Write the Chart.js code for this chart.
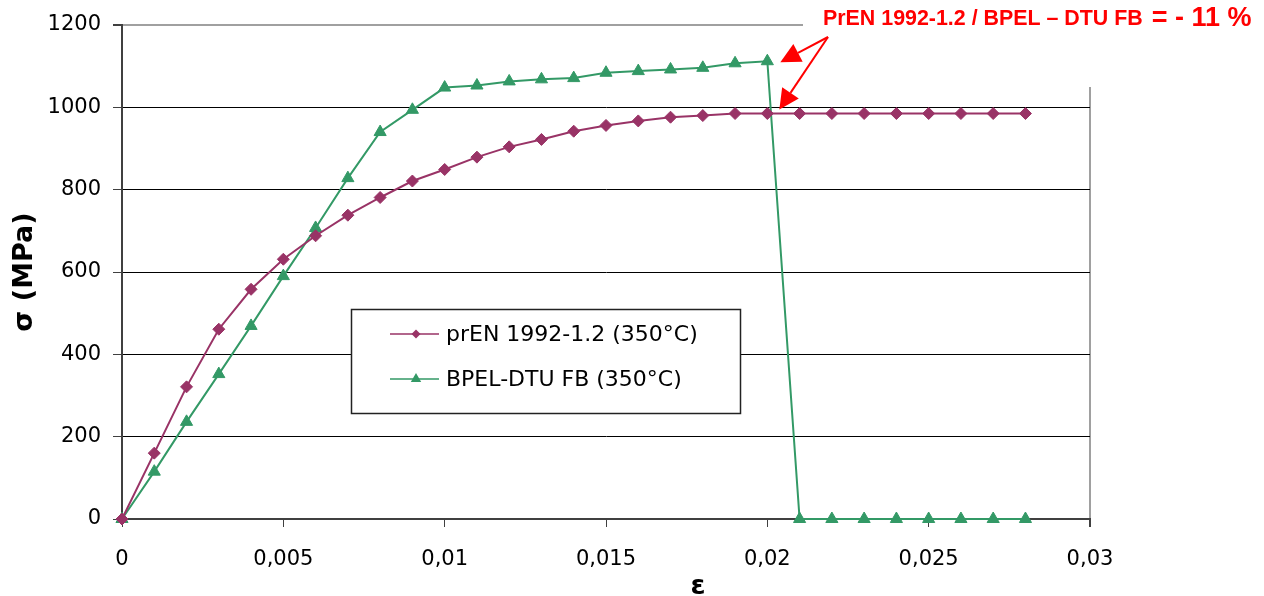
<!DOCTYPE html>
<html>
<head>
<meta charset="utf-8">
<script src="https://cdn.jsdelivr.net/npm/chart.js@4.4.0/dist/chart.umd.min.js"></script>
<style>
  html, body { margin: 0; padding: 0; background: #fff; }
  canvas { display: block; }
</style>
</head>
<body>
<canvas id="chart" width="1264" height="596"></canvas>
<script>
// strain ε
const strain = [0, 0.001, 0.002, 0.003, 0.004, 0.005, 0.006, 0.007, 0.008, 0.009,
  0.010, 0.011, 0.012, 0.013, 0.014, 0.015, 0.016, 0.017, 0.018, 0.019,
  0.020, 0.021, 0.022, 0.023, 0.024, 0.025, 0.026, 0.027, 0.028];

// stress σ (MPa)
const prEN = [0, 160, 321, 461, 558, 631, 688, 738, 781, 821,
  849, 879, 904, 922, 942, 956, 967, 976, 980, 985,
  985, 985, 985, 985, 985, 985, 985, 985, 985];
const bpel = [0, 115, 236, 352, 469, 590, 707, 828, 940, 994,
  1048, 1053, 1063, 1068, 1071, 1084, 1088, 1092, 1096, 1107,
  1112, 0, 0, 0, 0, 0, 0, 0, 0];

const seriesNames = ['prEN 1992-1.2 (350°C)', 'BPEL-DTU FB (350°C)'];
const xTickLabels = ['0', '0,005', '0,01', '0,015', '0,02', '0,025', '0,03'];
const yTickLabels = ['0', '200', '400', '600', '800', '1000', '1200'];
const noteText = ['PrEN 1992-1.2 / BPEL – DTU FB ', '= - 11 %'];

const PURPLE = '#993366';
const GREEN = '#339966';

function toPoints(ys) {
  return ys.map((v, i) => ({ x: strain[i], y: v }));
}

function marker(ctx, style, r, x, y) {
  ctx.beginPath();
  if (style === 'triangle') {
    ctx.moveTo(x, y - r);
    ctx.lineTo(x + r * 0.866, y + r * 0.5);
    ctx.lineTo(x - r * 0.866, y + r * 0.5);
  } else {
    ctx.moveTo(x, y - r);
    ctx.lineTo(x + r, y);
    ctx.lineTo(x, y + r);
    ctx.lineTo(x - r, y);
  }
  ctx.closePath();
  ctx.fill();
}

function arrow(ctx, x0, y0, x1, y1) {
  const a = Math.atan2(y1 - y0, x1 - x0);
  const len = 20, half = 10;
  const bx = x1 - Math.cos(a) * len, by = y1 - Math.sin(a) * len;
  ctx.beginPath();
  ctx.moveTo(x0, y0);
  ctx.lineTo(bx, by);
  ctx.stroke();
  ctx.beginPath();
  ctx.moveTo(x1, y1);
  ctx.lineTo(bx + Math.sin(a) * half, by - Math.cos(a) * half);
  ctx.lineTo(bx - Math.sin(a) * half, by + Math.cos(a) * half);
  ctx.closePath();
  ctx.fill();
}

// legend box, ε title and the red ratio note
const extras = {
  id: 'extras',
  afterDraw(chart) {
    const ctx = chart.ctx;
    ctx.save();

    // legend
    const lx = 351, ly = 309, lw = 389, lh = 104;
    ctx.fillStyle = '#fff';
    ctx.fillRect(lx, ly, lw, lh);
    ctx.strokeStyle = '#222';
    ctx.lineWidth = 1.5;
    ctx.strokeRect(lx + 0.5, ly + 0.5, lw, lh);
    chart.data.datasets.forEach((ds, i) => {
      const y = ly + 25 + i * 45;
      ctx.strokeStyle = ds.borderColor;
      ctx.fillStyle = ds.borderColor;
      ctx.lineWidth = 1.5;
      ctx.beginPath();
      ctx.moveTo(lx + 39, y);
      ctx.lineTo(lx + 88, y);
      ctx.stroke();
      marker(ctx, ds.pointStyle, ds.pointStyle === 'triangle' ? 6 : 4.5, lx + 65, y);
      ctx.fillStyle = '#000';
      ctx.font = '22px "DejaVu Sans"';
      ctx.textAlign = 'left';
      ctx.textBaseline = 'middle';
      ctx.fillText(ds.label, lx + 95, y + 1);
    });

    // x axis title
    ctx.fillStyle = '#000';
    ctx.font = 'bold 27px "DejaVu Sans"';
    ctx.textAlign = 'center';
    ctx.textBaseline = 'middle';
    ctx.fillText('ε', 698, 587);

    // text box in the top right corner
    ctx.fillStyle = '#fff';
    ctx.fillRect(803, 0, chart.width - 803, 87);
    ctx.fillStyle = '#ff0000';
    ctx.strokeStyle = '#ff0000';
    ctx.textAlign = 'left';
    ctx.textBaseline = 'alphabetic';
    ctx.font = 'bold 21.4px "Liberation Sans"';
    ctx.fillText(noteText[0], 823, 25);
    const w = ctx.measureText(noteText[0]).width;
    ctx.font = 'bold 27px "Liberation Sans"';
    ctx.fillText(noteText[1], 823 + w + 3, 26);

    // arrows to the two curves at ε = 0,02
    const peak = chart.getDatasetMeta(1).data[20];
    const plateau = chart.getDatasetMeta(0).data[20];
    ctx.lineWidth = 2;
    arrow(ctx, 828, 37, peak.x + 13, peak.y + 1);
    arrow(ctx, 828, 37, plateau.x + 12, plateau.y - 4);

    ctx.restore();
  }
};

new Chart(document.getElementById('chart'), {
  type: 'line',
  data: {
    datasets: [
      {
        label: seriesNames[0],
        data: toPoints(prEN),
        borderColor: PURPLE,
        backgroundColor: PURPLE,
        borderWidth: 2,
        pointStyle: 'rectRot',
        pointRadius: 6,
        pointBorderWidth: 1,
        pointBackgroundColor: PURPLE,
        pointBorderColor: PURPLE,
        tension: 0,
        clip: false
      },
      {
        label: seriesNames[1],
        data: toPoints(bpel),
        borderColor: GREEN,
        backgroundColor: GREEN,
        borderWidth: 2,
        pointStyle: 'triangle',
        pointRadius: 7,
        pointBorderWidth: 1,
        pointBackgroundColor: GREEN,
        pointBorderColor: GREEN,
        tension: 0,
        clip: false
      }
    ]
  },
  options: {
    responsive: false,
    animation: false,
    layout: { padding: { top: 25, right: 174, left: 0, bottom: 0 } },
    plugins: {
      legend: { display: false },
      tooltip: { enabled: false }
    },
    scales: {
      x: {
        type: 'linear',
        min: 0,
        max: 0.03,
        afterFit: s => { s.height = 77; },
        ticks: {
          stepSize: 0.005,
          padding: 20,
          color: '#000',
          font: { family: 'DejaVu Sans', size: 21 },
          callback: (v, i) => xTickLabels[i]
        },
        grid: {
          color: c => c.index === 6 ? '#a0a0a0' : 'rgba(0,0,0,0)',
          lineWidth: c => c.index === 6 ? 2 : 1,
          tickColor: '#404040',
          tickLength: 8
        },
        border: { color: '#404040', width: 2 }
      },
      y: {
        min: 0,
        max: 1200,
        afterFit: s => { s.width = 122; },
        ticks: {
          stepSize: 200,
          padding: 12,
          color: '#000',
          font: { family: 'DejaVu Sans', size: 21 },
          callback: (v, i) => yTickLabels[i]
        },
        grid: {
          color: c => c.tick.value === 1200 ? '#a0a0a0' : (c.tick.value === 0 ? 'rgba(0,0,0,0)' : '#000'),
          lineWidth: c => c.tick.value === 1200 ? 2 : 1,
          tickColor: '#404040',
          tickLength: 9
        },
        border: { color: '#404040', width: 2 },
        title: {
          display: true,
          text: 'σ (MPa)',
          color: '#000',
          font: { family: 'DejaVu Sans', size: 27, weight: 'bold' },
          padding: { top: 9, bottom: 0 }
        }
      }
    }
  },
  plugins: [extras]
});
</script>
</body>
</html>
